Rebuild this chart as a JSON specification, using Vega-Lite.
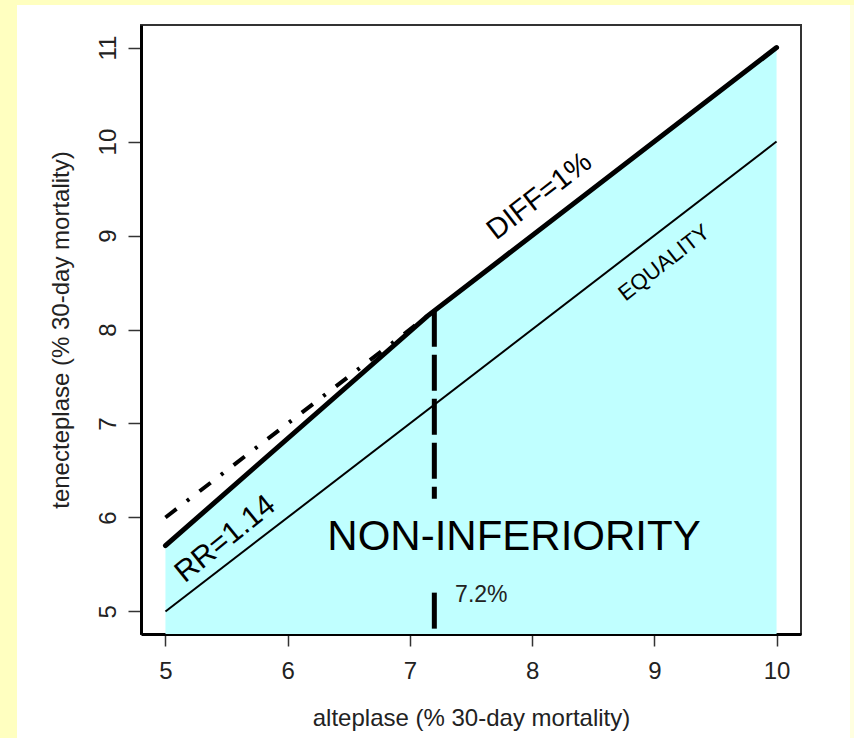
{
  "$schema": "https://vega.github.io/schema/vega-lite/v6.json",
  "background": "white",
  "padding": 0,
  "spacing": 0,
  "config": {
    "font": "Liberation Sans",
    "view": {"stroke": null},
    "concat": {"spacing": 0}
  },
  "datasets": {
    "boundary": [
      {"alteplase": 5, "tenecteplase": 5.7},
      {"alteplase": 7.143, "tenecteplase": 8.143},
      {"alteplase": 10, "tenecteplase": 11}
    ],
    "diff_dashdot": [
      {"alteplase": 5, "tenecteplase": 6},
      {"alteplase": 7.143, "tenecteplase": 8.143}
    ],
    "equality": [
      {"alteplase": 5, "tenecteplase": 5},
      {"alteplase": 10, "tenecteplase": 10}
    ],
    "marker": [
      {"alteplase": 7.2, "tenecteplase": 8.2, "tenecteplase2": 6.2},
      {"alteplase": 7.2, "tenecteplase": 5.2, "tenecteplase2": 4.78}
    ],
    "lab_diff": [{"label": "DIFF=1%", "alteplase": 8.06, "tenecteplase": 9.42}],
    "lab_eq": [{"label": "EQUALITY", "alteplase": 9.08, "tenecteplase": 8.71}],
    "lab_rr": [{"label": "RR=1.14", "alteplase": 5.49, "tenecteplase": 5.77}],
    "lab_ni": [{"label": "NON-INFERIORITY", "alteplase": 7.852, "tenecteplase": 5.79}],
    "lab_72": [{"label": "7.2%", "alteplase": 7.37, "tenecteplase": 5.175}]
  },
  "vconcat": [
    {"width": 854, "height": 5, "data": {"values": []}, "mark": "point", "view": {"fill": "#FFFFC0", "stroke": null}},
    {
      "spacing": 0,
      "hconcat": [
        {"width": 17, "height": 733, "data": {"values": []}, "mark": "point", "view": {"fill": "#FFFFC0", "stroke": null}},
        {"width": 30, "height": 733, "data": {"values": []}, "mark": "point"},
        {
          "spacing": 0,
          "vconcat": [
            {"width": 10, "height": 19, "data": {"values": []}, "mark": "point"},
            {
              "width": 660,
              "height": 609,
              "view": {"stroke": "#333333", "strokeWidth": 2, "fill": "white"},
              "layer": [
                {
                  "data": {"name": "boundary"},
                  "mark": {"type": "area", "color": "#C0FFFF", "clip": true},
                  "encoding": {
                    "x": {
                      "field": "alteplase", "type": "quantitative",
                      "scale": {"domain": [4.8, 10.2], "nice": false, "zero": false},
                      "axis": {
                        "title": "alteplase (% 30-day mortality)",
                        "values": [5, 6, 7, 8, 9, 10], "format": "d",
                        "grid": false, "domain": true, "domainColor": "black", "domainWidth": 3,
                        "tickSize": 12, "tickWidth": 1.5, "tickColor": "#333333",
                        "labelFontSize": 24, "labelPadding": 13, "labelColor": "#222222",
                        "labelFlush": false, "labelOverlap": false,
                        "titleFontSize": 24, "titleFontWeight": "normal", "titleColor": "#222222",
                        "titlePadding": 23
                      }
                    },
                    "y": {
                      "field": "tenecteplase", "type": "quantitative",
                      "scale": {"domain": [4.76, 11.24], "nice": false, "zero": false},
                      "axis": {
                        "title": "tenecteplase (% 30-day mortality)",
                        "values": [5, 6, 7, 8, 9, 10, 11], "format": "d",
                        "grid": false, "domain": true, "domainColor": "black", "domainWidth": 3,
                        "tickSize": 13, "tickWidth": 1.5, "tickColor": "#333333",
                        "labelFontSize": 24, "labelPadding": 8, "labelColor": "#222222",
                        "labelAngle": -90, "labelAlign": "center", "labelBaseline": "bottom",
                        "labelFlush": false, "labelOverlap": false,
                        "titleFontSize": 24, "titleFontWeight": "normal", "titleColor": "#222222",
                        "titlePadding": 23
                      }
                    }
                  }
                },
                {
                  "data": {"name": "equality"},
                  "mark": {"type": "line", "color": "black", "strokeWidth": 2},
                  "encoding": {
                    "x": {"field": "alteplase", "type": "quantitative"},
                    "y": {"field": "tenecteplase", "type": "quantitative"}
                  }
                },
                {
                  "data": {"name": "diff_dashdot"},
                  "mark": {"type": "line", "color": "black", "strokeWidth": 4, "strokeDash": [14, 13, 3, 13]},
                  "encoding": {
                    "x": {"field": "alteplase", "type": "quantitative"},
                    "y": {"field": "tenecteplase", "type": "quantitative"}
                  }
                },
                {
                  "data": {"name": "boundary"},
                  "mark": {"type": "line", "color": "black", "strokeWidth": 5, "strokeCap": "round"},
                  "encoding": {
                    "x": {"field": "alteplase", "type": "quantitative"},
                    "y": {"field": "tenecteplase", "type": "quantitative"}
                  }
                },
                {
                  "data": {"name": "marker"},
                  "mark": {"type": "rule", "color": "black", "strokeWidth": 5, "strokeDash": [36, 8]},
                  "encoding": {
                    "x": {"field": "alteplase", "type": "quantitative"},
                    "y": {"field": "tenecteplase", "type": "quantitative"},
                    "y2": {"field": "tenecteplase2"}
                  }
                },
                {
                  "data": {"name": "lab_diff"},
                  "mark": {"type": "text", "angle": 322.4, "fontSize": 29, "align": "center", "baseline": "middle", "color": "black"},
                  "encoding": {
                    "x": {"field": "alteplase", "type": "quantitative"},
                    "y": {"field": "tenecteplase", "type": "quantitative"},
                    "text": {"field": "label"}
                  }
                },
                {
                  "data": {"name": "lab_eq"},
                  "mark": {"type": "text", "angle": 322, "fontSize": 22, "align": "center", "baseline": "middle", "color": "black"},
                  "encoding": {
                    "x": {"field": "alteplase", "type": "quantitative"},
                    "y": {"field": "tenecteplase", "type": "quantitative"},
                    "text": {"field": "label"}
                  }
                },
                {
                  "data": {"name": "lab_rr"},
                  "mark": {"type": "text", "angle": 321, "fontSize": 30, "align": "center", "baseline": "middle", "color": "black"},
                  "encoding": {
                    "x": {"field": "alteplase", "type": "quantitative"},
                    "y": {"field": "tenecteplase", "type": "quantitative"},
                    "text": {"field": "label"}
                  }
                },
                {
                  "data": {"name": "lab_ni"},
                  "mark": {"type": "text", "fontSize": 42, "align": "center", "baseline": "middle", "color": "black"},
                  "encoding": {
                    "x": {"field": "alteplase", "type": "quantitative"},
                    "y": {"field": "tenecteplase", "type": "quantitative"},
                    "text": {"field": "label"}
                  }
                },
                {
                  "data": {"name": "lab_72"},
                  "mark": {"type": "text", "fontSize": 23, "align": "left", "baseline": "middle", "color": "#222222"},
                  "encoding": {
                    "x": {"field": "alteplase", "type": "quantitative"},
                    "y": {"field": "tenecteplase", "type": "quantitative"},
                    "text": {"field": "label"}
                  }
                }
              ]
            }
          ]
        },
        {"width": 48, "height": 733, "data": {"values": []}, "mark": "point"},
        {"width": 6, "height": 733, "data": {"values": []}, "mark": "point", "view": {"fill": "#FFFFE0", "stroke": null}}
      ]
    }
  ]
}
